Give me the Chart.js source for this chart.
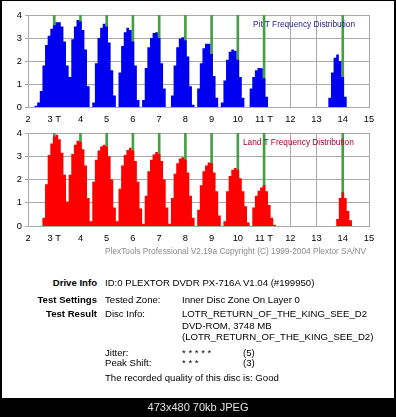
<!DOCTYPE html>
<html><head><meta charset="utf-8">
<script src="https://cdn.jsdelivr.net/npm/chart.js@4/dist/chart.umd.min.js"></script>
<style>
html,body{margin:0;padding:0;background:#000;width:396px;height:417px;overflow:hidden;font-family:"Liberation Sans",Arial,sans-serif;}
#panel{position:absolute;left:2px;top:1px;width:392px;height:397px;background:#fff;}
.c{position:absolute;left:0;width:396px;}
.t{position:absolute;white-space:nowrap;font-size:9.6px;line-height:12px;height:12px;color:#000;}
.b{font-weight:bold;text-align:right;left:0;width:97px;}
.ttl{position:absolute;white-space:nowrap;font-size:8.3px;line-height:10px;}
#copy{position:absolute;left:105px;top:246px;font-size:8.3px;line-height:11px;color:#8c8c8c;white-space:nowrap;}
#foot{position:absolute;left:0;top:398px;width:396px;height:19px;color:#e4e4e4;font-size:11px;text-align:center;line-height:19px;}
</style></head><body>
<div id="panel"></div>
<div class="c" style="top:0;height:128px"><canvas id="pit"></canvas></div>
<div class="c" style="top:118px;height:129px"><canvas id="land"></canvas></div>
<div class="ttl" style="left:253px;top:19px;color:#1e1e8c">Pit T Frequency Distribution</div>
<div class="ttl" style="left:243px;top:137px;color:#a8002a">Land T Frequency Distribution</div>
<div id="copy">PlexTools Professional V2.19a Copyright (C) 1999-2004 Plextor SA/NV</div>

<div class="t b" style="top:277px">Drive Info</div>
<div class="t" style="left:105px;top:277px">ID:0 PLEXTOR DVDR PX-716A V1.04 (#199950)</div>
<div class="t b" style="top:294px">Test Settings</div>
<div class="t" style="left:105px;top:294px">Tested Zone:</div>
<div class="t" style="left:182px;top:294px">Inner Disc Zone On Layer 0</div>
<div class="t b" style="top:308px">Test Result</div>
<div class="t" style="left:105px;top:308px">Disc Info:</div>
<div class="t" style="left:182px;top:308px">LOTR_RETURN_OF_THE_KING_SEE_D2</div>
<div class="t" style="left:182px;top:320px">DVD-ROM, 3748 MB</div>
<div class="t" style="left:182px;top:331px">(LOTR_RETURN_OF_THE_KING_SEE_D2)</div>
<div class="t" style="left:105px;top:347px">Jitter:</div>
<div class="t" style="left:182px;top:347px">* * * * *</div>
<div class="t" style="left:243px;top:347px">(5)</div>
<div class="t" style="left:105px;top:357px">Peak Shift:</div>
<div class="t" style="left:182px;top:357px">* * *</div>
<div class="t" style="left:243px;top:357px">(3)</div>
<div class="t" style="left:105px;top:372px">The recorded quality of this disc is: Good</div>
<div id="foot">473x480 70kb JPEG</div>

<script>
// T-length bins (centres, in T units)
const binT = [2.2,2.3,2.4,2.5,2.6,2.7,2.8,2.9,3.0,3.1,3.2,3.3,3.4,3.5,3.6,3.7,3.8,3.9,4.0,4.1,4.2,
  4.3,4.4,4.5,4.6,4.7,4.8,4.9,5.0,5.1,5.2,5.3,5.4,5.5,5.6,5.7,5.8,5.9,6.0,6.1,6.2,
  6.3,6.4,6.5,6.6,6.7,6.8,6.9,7.0,7.1,7.2,7.3,7.4,7.5,7.6,7.7,7.8,7.9,8.0,8.1,8.2,
  8.3,8.4,8.5,8.6,8.7,8.8,8.9,9.0,9.1,9.2,9.3,9.4,9.5,9.6,9.7,9.8,9.9,10.0,10.1,10.2,
  10.3,10.4,10.5,10.6,10.7,10.8,10.9,11.0,11.1,11.2,11.3,11.4,11.5,
  13.4,13.5,13.6,13.7,13.8,13.9,14.0,14.1,14.2,14.3,14.4];
// Pit T frequency
const pitFreq = [0,0.05,0.2,0.7,1.8,2.7,3.1,3.4,3.55,3.68,3.68,3.5,2.85,1.8,1.3,2.95,3.5,3.78,3.72,3.35,2.5,
  0.9,0,0.2,1.9,3.0,3.45,3.62,3.5,2.8,1.6,0.5,0,1.5,2.65,3.25,3.45,3.35,2.85,1.8,0.3,
  0,0.3,1.7,2.6,3.0,3.22,3.25,3.0,1.9,0.8,0,0,0.5,1.8,2.6,2.98,3.03,2.9,2.2,0.9,
  0.1,0,0.8,1.9,2.55,2.75,2.75,2.3,1.35,0.4,0,0.2,1.15,2.05,2.4,2.5,2.45,2.05,1.3,0.4,
  0,0,0.8,1.3,1.6,1.7,1.68,1.25,0.45,0,0,0,0,
  0,0.4,1.5,2.14,2.28,2.0,1.3,0.45,0,0,0];
// Land T frequency
const landFreq = [0,0,0,0,0.35,1.8,3.05,3.55,3.85,3.92,3.73,3.15,2.2,1.05,2.2,3.1,3.5,3.67,3.62,3.3,2.6,
  1.2,0.2,1.9,2.85,3.25,3.42,3.5,3.42,3.0,2.0,0.8,0.2,1.6,2.6,3.05,3.27,3.37,3.25,2.8,1.9,
  0.75,0.1,1.3,2.36,2.85,3.08,3.18,3.1,2.8,2.0,0.8,0.1,1.2,2.25,2.7,2.9,2.96,2.86,2.3,1.3,
  0.35,0,0.7,1.75,2.36,2.6,2.73,2.7,2.3,1.5,0.45,0,0.2,1.5,2.15,2.42,2.5,2.42,2.05,1.5,
  0.85,0.15,0,0.8,1.3,1.52,1.66,1.76,1.5,0.9,0.35,0.05,0,
  0,0,0,0,0.3,1.2,1.45,1.2,0.65,0.25,0];
// ideal T positions (green markers)
const idealT = [3,4,5,6,7,8,9,10,11,14];
const tickLabels = ['2','3 T','4','5','6','7','8','9','10','11 T','12','13','14','15'];
const xMin = 2, xMax = 15, yMin = 0, yMax = 4;

const gridCol = '#a9a9a9';
const tickFont = {family:'"Liberation Sans Narrow","Liberation Sans",Arial,sans-serif', size:9.3};

function makeChart(id, values, color) {
  return new Chart(document.getElementById(id), {
    type: 'bar',
    data: {
      datasets: [
        { type: 'line', data: binT.map((t,i)=>({x:t, y: values[i]})),
          stepped: 'middle', fill: 'origin', backgroundColor: color, borderColor: 'rgba(0,0,0,0)',
          borderWidth: 0, pointRadius: 0, tension: 0, order: 1 },
        { data: idealT.map(t=>({x:t, y:yMax})),
          backgroundColor: '#45a045', borderWidth: 0, barThickness: 2,
          grouped: false, order: 2 }
      ]
    },
    options: {
      responsive: true, maintainAspectRatio: false, animation: false,
      layout: {padding: {left: 0, right: 27, top: 15, bottom: 0}},
      plugins: {legend: {display: false}, tooltip: {enabled: false}},
      scales: {
        x: {type: 'linear', min: xMin, max: xMax, offset: false,
            afterFit(s){ s.height = 21; },
            grid: {color: gridCol, drawTicks: false, offset: false},
            border: {color: gridCol},
            ticks: {stepSize: 1, autoSkip: false, maxRotation: 0, padding: 7, color: '#000',
                    font: tickFont, callback: v => tickLabels[v - xMin]}},
        y: {min: yMin, max: yMax,
            afterFit(s){ s.width = 28; },
            grid: {color: gridCol, tickLength: 3},
            border: {color: gridCol},
            ticks: {stepSize: 1, padding: 3, color: '#000', font: tickFont}}
      }
    }
  });
}
makeChart('pit', pitFreq, '#0000f0');
makeChart('land', landFreq, '#ff0000');
</script>
</body></html>
